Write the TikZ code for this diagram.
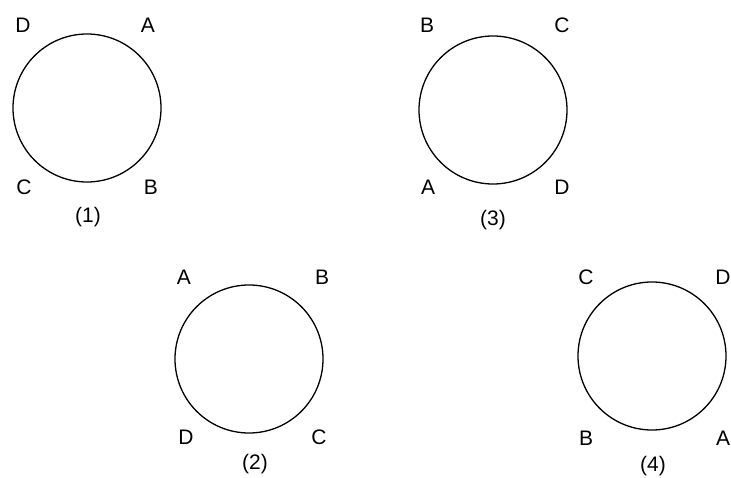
\documentclass[tikz,border=0pt]{standalone}
\usepackage{fontspec}
\setmainfont{Liberation Sans}
\begin{document}
\begin{tikzpicture}[x=1pt,y=-1pt,
  ring/.style={draw,line width=1.3pt,circle,minimum size=148pt,inner sep=0pt},
  lbl/.style={font=\fontsize{21}{21}\selectfont,inner sep=0pt}]
\useasboundingbox (0,0) rectangle (731,478);
% (1)
\node[ring] (c1) at (87,108) {};
\node[lbl] (c1D) at (23,25) {D};
\node[lbl] (c1A) at (148,25) {A};
\node[lbl] (c1C) at (24,187) {C};
\node[lbl] (c1B) at (151,187) {B};
\node[lbl] (c1n) at (88,217) {(1)};
% (3)
\node[ring] (c3) at (493,110) {};
\node[lbl] (c3B) at (427,25) {B};
\node[lbl] (c3C) at (562,25) {C};
\node[lbl] (c3A) at (428,187) {A};
\node[lbl] (c3D) at (562,187) {D};
\node[lbl] (c3n) at (493,220) {(3)};
% (2)
\node[ring] (c2) at (249,359) {};
\node[lbl] (c2A) at (184,277) {A};
\node[lbl] (c2B) at (322,277) {B};
\node[lbl] (c2D) at (186,437) {D};
\node[lbl] (c2C) at (319,437) {C};
\node[lbl] (c2n) at (255,464) {(2)};
% (4)
\node[ring] (c4) at (652,356) {};
\node[lbl] (c4C) at (586,277) {C};
\node[lbl] (c4D) at (723,277) {D};
\node[lbl] (c4B) at (586,438) {B};
\node[lbl] (c4A) at (723,438) {A};
\node[lbl] (c4n) at (653,466) {(4)};
\end{tikzpicture}
\end{document}
